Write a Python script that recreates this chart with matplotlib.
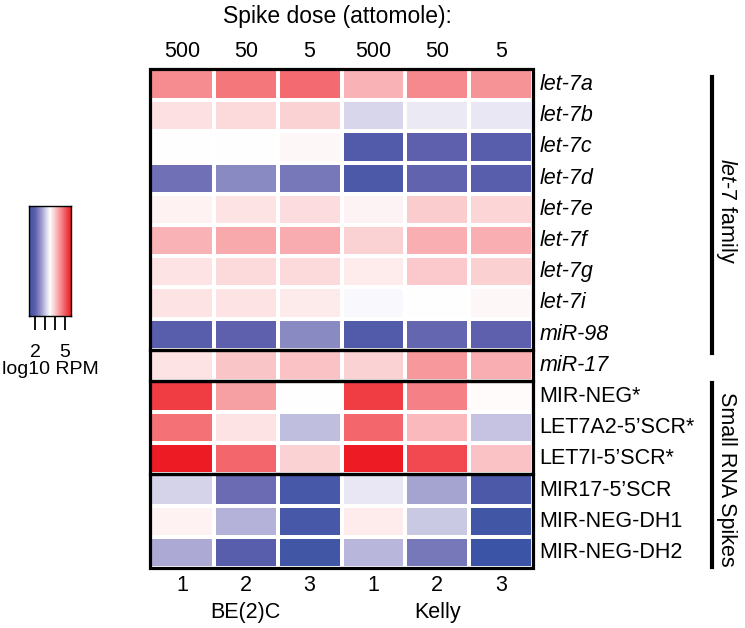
import numpy as np
import matplotlib
matplotlib.use("Agg")
import matplotlib.pyplot as plt
from matplotlib.colors import LinearSegmentedColormap
from matplotlib.patches import Rectangle

plt.rcParams['font.family'] = ['Liberation Sans', 'DejaVu Sans']
plt.rcParams['mathtext.fontset'] = 'custom'
plt.rcParams['mathtext.it'] = 'Liberation Sans:italic'
plt.rcParams['mathtext.rm'] = 'Liberation Sans'

row_labels = ["let-7a", "let-7b", "let-7c", "let-7d", "let-7e", "let-7f", "let-7g",
              "let-7i", "miR-98", "miR-17", "MIR-NEG*", "LET7A2-5\u2019SCR*",
              "LET7I-5\u2019SCR*", "MIR17-5\u2019SCR", "MIR-NEG-DH1", "MIR-NEG-DH2"]
italic_rows = 10
dose_labels = ["500", "50", "5", "500", "50", "5"]
rep_labels = ["1", "2", "3", "1", "2", "3"]
cell_lines = ["BE(2)C", "Kelly"]

# log10 RPM values (estimated)
let7a = [4.55, 4.76, 4.87, 4.19, 4.59, 4.49]
let7b = [3.79, 3.86, 3.92, 3.14, 3.31, 3.29]
let7c = [3.50, 3.50, 3.58, 1.82, 2.03, 1.93]
let7d = [2.20, 2.45, 2.28, 1.72, 2.07, 1.93]
let7e = [3.63, 3.75, 3.82, 3.61, 3.96, 3.88]
let7f = [4.19, 4.30, 4.26, 3.92, 4.24, 4.24]
let7g = [3.75, 3.86, 3.86, 3.67, 4.00, 3.94]
let7i = [3.75, 3.75, 3.69, 3.44, 3.50, 3.58]
mir98 = [1.93, 2.03, 2.45, 1.82, 2.09, 2.03]
mir17 = [3.75, 4.03, 4.07, 3.92, 4.45, 4.24]
mirneg = [5.29, 4.38, 3.50, 5.29, 4.66, 3.54]
let7a2 = [4.80, 3.75, 2.93, 4.91, 4.13, 2.98]
let7i5 = [5.60, 4.91, 3.92, 5.60, 5.18, 4.07]
mir17s = [3.12, 2.14, 1.65, 3.29, 2.70, 1.72]
dh1 = [3.63, 2.83, 1.65, 3.67, 3.04, 1.55]
dh2 = [2.77, 1.93, 1.55, 2.87, 2.28, 1.46]

data = np.array([let7a, let7b, let7c, let7d, let7e, let7f, let7g, let7i, mir98,
                 mir17, mirneg, let7a2, let7i5, mir17s, dh1, dh2])
groups = [(0, 9), (9, 10), (10, 13), (13, 16)]
vmin, vmax = 1.4, 5.6

cmap = LinearSegmentedColormap.from_list(
    "bwr2",
    [(0.0, "#3953a4"), (0.15, "#5e60ad"), (0.30, "#a09ece"),
     (0.425, "#dcdbed"), (0.5, "#ffffff"), (1.0, "#ed1c24")])

fig = plt.figure(figsize=(7.45, 6.28), dpi=100)
W, H = 745, 628
def fx(px): return px / W
def fy(py): return 1 - py / H

L, R, T, B = 150, 533, 69, 568
ax = fig.add_axes([fx(L), fy(B), fx(R) - fx(L), fy(T) - fy(B)])
nrow, ncol = data.shape
ax.pcolormesh(np.arange(ncol + 1), np.arange(nrow + 1), data, cmap=cmap,
              vmin=vmin, vmax=vmax, edgecolors="white", linewidth=1.5)
ax.set_xlim(0, ncol)
ax.set_ylim(nrow, 0)
ax.set_xticks([]); ax.set_yticks([])
for s in ax.spines.values():
    s.set_visible(False)
for g0, g1 in groups:
    ax.add_patch(Rectangle((0, g0), ncol, g1 - g0, fill=False, edgecolor="black",
                           linewidth=2.3, clip_on=False, zorder=5))

fs = 15.5
for i, lab in enumerate(row_labels):
    ax.text(ncol + 0.1, i + 0.5, lab, ha="left", va="center", fontsize=fs,
            style="italic" if i < italic_rows else "normal")
for j in range(ncol):
    ax.text(j + 0.5, -0.55, dose_labels[j], ha="center", va="center", fontsize=fs)
    ax.text(j + 0.5, nrow + 0.55, rep_labels[j], ha="center", va="center", fontsize=fs)
ax.text(1.5, nrow + 1.42, cell_lines[0], ha="center", va="center", fontsize=fs)
ax.text(4.5, nrow + 1.42, cell_lines[1], ha="center", va="center", fontsize=fs)
fig.text(fx(337), fy(17), "Spike dose (attomole):", ha="center", va="center", fontsize=16.5)

# right brackets
bx = fx(712)
fig.add_artist(plt.Line2D([bx, bx], [fy(77), fy(353)], color="black", linewidth=3))
fig.add_artist(plt.Line2D([bx, bx], [fy(383), fy(567)], color="black", linewidth=3))
fig.text(fx(726), fy(211), r"$\mathit{let}$-$\mathit{7}$ family", rotation=270,
         ha="center", va="center", fontsize=fs)
fig.text(fx(726), fy(479), "Small RNA Spikes", rotation=270,
         ha="center", va="center", fontsize=fs)

# colorbar
cax = fig.add_axes([fx(29), fy(316), fx(71) - fx(29), fy(206) - fy(316)])
grad = np.linspace(vmin, vmax, 256)[None, :]
cax.imshow(grad, aspect="auto", cmap=cmap, vmin=vmin, vmax=vmax,
           extent=[vmin, vmax, 0, 1])
cax.set_xlim(vmin, vmax)
cax.set_yticks([])
cax.set_xticks([2, 3, 4, 5])
cax.set_xticklabels(["2", "", "", "5"], fontsize=14)
cax.tick_params(axis="x", length=10, width=1.3, pad=10)
for s in cax.spines.values():
    s.set_linewidth(1.0)
cax.set_xlabel("log10 RPM", fontsize=14, labelpad=0)

fig.savefig("out.png", dpi=100)
